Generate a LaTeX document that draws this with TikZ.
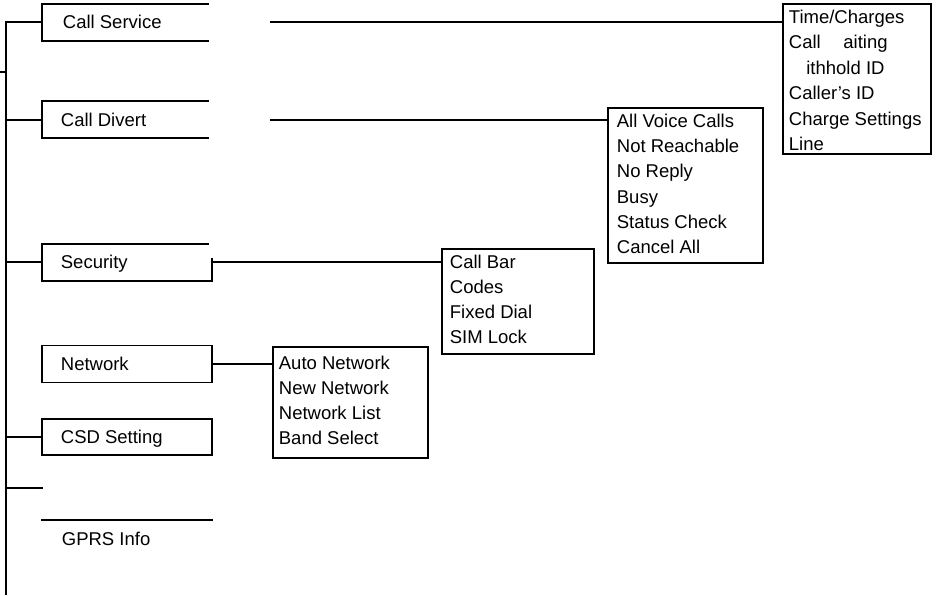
\documentclass[tikz,border=0pt]{standalone}
\usepackage{fontspec}
\setmainfont{Liberation Sans}
\begin{document}
\begin{tikzpicture}[x=1pt,y=-1pt,line width=1.8pt,line cap=rect,
  lbl/.style={anchor=base west,inner sep=0pt,font=\fontsize{18.5}{22}\selectfont},
  listbox/.style={draw,rectangle,inner sep=0pt,line width=1.8pt}]
\useasboundingbox (0,0) rectangle (936,595);

% root line
\coordinate (rootTop) at (6,22);
\coordinate (rootBot) at (6,595);
\coordinate (stubL) at (0,72);
\coordinate (stubR) at (6,72);
\draw[line cap=butt] (rootTop) -- (rootBot);
\draw[line cap=butt] (stubL) -- (stubR);

% ---------- Call Service ----------
\coordinate (csL) at (42,22);
\draw (208,4) -- (42,4) -- (42,41) -- (208,41);
\node[lbl] (csT) at (62,28.4) {Call Service};
\draw (rootTop) -- (csL);

% ---------- Call Divert ----------
\coordinate (cdL) at (42,120);
\draw (208,101) -- (42,101) -- (42,138) -- (208,138);
\node[lbl] (cdT) at (60,126.4) {Call Divert};
\draw (rootTop |- cdL) -- (cdL);

% ---------- Security ----------
\coordinate (secL) at (42,262);
\coordinate (secR) at (212,262);
\draw (208,244) -- (42,244) -- (42,281) -- (212,281) -- (212,259);
\node[lbl] (secT) at (60,268.4) {Security};
\draw (rootTop |- secL) -- (secL);

% ---------- Network ----------
\node[listbox,minimum width=170pt,minimum height=37pt] (net) at (127,364) {};
\node[lbl] (netT) at (60,370.4) {Network};

% ---------- CSD Setting ----------
\node[listbox,minimum width=170pt,minimum height=36pt] (csd) at (127,437) {};
\node[lbl] (csdT) at (60,443.4) {CSD Setting};
\draw (rootTop |- csd.west) -- (csd.west);

% ---------- empty branch ----------
\coordinate (emL) at (42,488);
\draw (rootTop |- emL) -- (emL);

% ---------- GPRS Info ----------
\coordinate (gpL) at (42,520);
\coordinate (gpR) at (212,520);
\draw (gpL) -- (gpR);
\node[lbl] (gpT) at (61,545.4) {GPRS Info};

% ---------- sub-menus ----------
\node[listbox,minimum width=148pt,minimum height=150pt] (tc) at (857,79) {};
\foreach \t [count=\i] in {Time/Charges,Call \phantom{W}aiting,\phantom{W}ithhold ID,Caller’s ID,Charge Settings,Line}
  \node[lbl] (tc\i) at (788,{23.5+25.4*(\i-1)}) {\t};

\node[listbox,minimum width=155pt,minimum height=155pt] (av) at (685.5,185.5) {};
\foreach \t [count=\i] in {All Voice Calls,Not Reachable,No Reply,Busy,Status Check,Cancel All}
  \node[lbl] (av\i) at (616,{127.5+25.2*(\i-1)}) {\t};

\node[listbox,minimum width=152pt,minimum height=105pt] (cb) at (518,301.5) {};
\foreach \t [count=\i] in {Call Bar,Codes,Fixed Dial,SIM Lock}
  \node[lbl] (cb\i) at (449,{268+25*(\i-1)}) {\t};

\node[listbox,minimum width=155pt,minimum height=111pt] (an) at (350.5,402.5) {};
\foreach \t [count=\i] in {Auto Network,New Network,Network List,Band Select}
  \node[lbl] (an\i) at (278,{369+25*(\i-1)}) {\t};

% ---------- connectors ----------
\coordinate (csR) at (271,22);
\coordinate (cdR) at (271,120);
\draw (csR) -- (csR -| tc.west);
\draw (cdR) -- (cdR -| av.west);
\draw (secR) -- (secR -| cb.west);
\draw (net.east) -- (net.east -| an.west);
\end{tikzpicture}
\end{document}
